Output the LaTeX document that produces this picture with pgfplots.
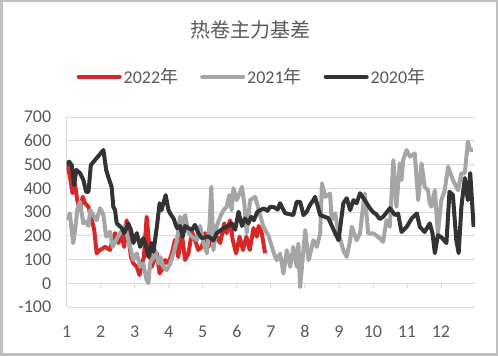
\documentclass[border=0pt]{standalone}
\usepackage{pgfplots}
\pgfplotsset{compat=1.18}
\usepackage{fontspec}
\setmainfont{Carlito}
\newfontfamily\cjk{Noto Sans CJK SC}
\definecolor{c22}{RGB}{214,40,40}
\definecolor{c21}{RGB}{165,165,165}
\definecolor{c20}{RGB}{51,51,51}
\definecolor{txt}{RGB}{89,89,89}
\definecolor{gridc}{RGB}{217,217,217}
\definecolor{bordc}{RGB}{191,191,191}
\begin{document}
\begin{tikzpicture}
\useasboundingbox (0,0) rectangle (498pt,356pt);
\draw[bordc, line width=2.5pt] (1.25pt,1.25pt) rectangle (496.75pt,354.75pt);
\node[txt, font=\cjk\fontsize{20}{24}\selectfont] at (250pt,326pt) {热卷主力基差};
\begin{axis}[
  at={(66.7pt,49pt)}, anchor=south west,
  scale only axis, width=408.3pt, height=190pt,
  xmin=1, xmax=13, ymin=-100, ymax=700,
  xtick={1,...,12}, ytick={-100,0,...,700},
  axis y line*=left, axis x line*=bottom,
  x axis line style={draw=none},
  y axis line style={draw=gridc, line width=0.8pt},
  major tick length=0pt,
  ymajorgrids, grid style={gridc, line width=0.8pt},
  tick label style={txt, font=\fontsize{18}{20}\selectfont},
  /pgf/number format/assume math mode=true,
  xticklabel style={yshift=-15pt},
  yticklabel style={xshift=-12pt},
  legend columns=3,
  legend style={at={(0.4538,1.212)}, anchor=center, draw=none, fill=none,
    font=\fontsize{18}{20}\selectfont, text=txt,
    nodes={inner xsep=2pt},
    /tikz/every even column/.append style={column sep=20pt}},
  legend image code/.code={\draw[#1, line width=4pt, line cap=round] (0pt,0pt) -- (41pt,0pt);},
  every axis plot/.append style={line width=4pt, line join=round},
]
\pgfplotsinvokeforeach{1,...,13}{\draw[gridc, line width=0.8pt] (axis cs:#1,0) -- ([yshift=-5pt]axis cs:#1,0);}
\draw[gridc, line width=0.8pt] (axis cs:1,0) -- (axis cs:13,0);
\addplot[c22, no markers] coordinates {
(1.00,505)(1.04,490)(1.11,435)(1.17,379)(1.24,420)(1.31,350)(1.39,308)(1.47,364)(1.54,337)(1.64,322)
(1.74,265)(1.81,225)(1.88,126)(1.98,140)(2.13,153)(2.27,140)(2.35,182)(2.42,211)(2.52,169)(2.59,211)
(2.69,153)(2.76,265)(2.81,196)(2.89,111)(2.96,83)(3.06,69)(3.14,34)(3.21,83)(3.27,111)(3.35,280)
(3.43,153)(3.50,69)(3.57,98)(3.65,126)(3.73,41)(3.79,55)(3.89,98)(3.99,83)(4.09,126)(4.18,182)
(4.28,111)(4.38,211)(4.48,98)(4.58,126)(4.68,217)(4.77,182)(4.87,140)(4.97,153)(5.07,211)(5.17,153)
(5.25,241)(5.31,169)(5.41,196)(5.51,169)(5.63,252)(5.70,211)(5.80,265)(5.88,182)(5.98,126)(6.08,196)
(6.18,140)(6.28,196)(6.38,140)(6.49,232)(6.59,196)(6.64,241)(6.73,213)(6.83,126)};
\addlegendentry{2022{\cjk 年}}
\addplot[c21, no markers] coordinates {
(1.04,265)(1.09,294)(1.19,169)(1.24,217)(1.31,308)(1.39,343)(1.49,252)(1.57,260)(1.64,241)(1.69,308)
(1.78,287)(1.88,265)(1.98,316)(2.08,287)(2.16,196)(2.27,217)(2.35,153)(2.45,182)(2.57,211)(2.72,241)
(2.81,182)(2.91,126)(2.96,98)(3.06,126)(3.16,69)(3.25,83)(3.35,13)(3.40,0)(3.45,83)(3.55,111)
(3.60,140)(3.70,83)(3.75,111)(3.84,69)(3.94,55)(4.04,83)(4.14,126)(4.24,182)(4.33,280)(4.38,241)
(4.48,287)(4.58,211)(4.68,196)(4.83,182)(4.92,241)(5.02,169)(5.12,126)(5.20,252)(5.25,406)(5.31,139)
(5.41,241)(5.51,280)(5.61,308)(5.70,322)(5.78,371)(5.85,308)(5.90,400)(6.00,350)(6.10,385)(6.15,406)
(6.22,337)(6.29,211)(6.39,350)(6.54,364)(6.66,300)(6.78,238)(6.93,200)(7.08,130)(7.17,97)(7.27,125)
(7.37,41)(7.47,139)(7.57,69)(7.66,153)(7.76,69)(7.81,167)(7.86,-16)(8.01,224)(8.11,97)(8.25,181)
(8.35,153)(8.45,210)(8.50,421)(8.60,364)(8.74,378)(8.79,266)(8.89,294)(8.99,210)(9.13,139)(9.23,111)
(9.33,181)(9.38,238)(9.52,181)(9.62,210)(9.72,336)(9.76,378)(9.86,210)(10.01,210)(10.16,195)(10.30,174)
(10.40,266)(10.50,238)(10.60,519)(10.69,322)(10.79,505)(10.84,435)(10.89,519)(10.99,561)(11.09,533)(11.23,547)
(11.33,350)(11.43,505)(11.52,406)(11.62,392)(11.67,336)(11.72,322)(11.82,392)(11.91,210)(12.01,350)(12.11,392)
(12.21,491)(12.35,435)(12.50,392)(12.60,463)(12.70,463)(12.79,596)(12.86,561)(12.94,561)};
\addlegendentry{2021{\cjk 年}}
\addplot[c20, no markers] coordinates {
(1.00,498)(1.07,512)(1.15,497)(1.22,413)(1.28,477)(1.39,464)(1.49,435)(1.57,385)(1.64,385)(1.71,498)
(1.88,527)(2.08,561)(2.16,477)(2.22,449)(2.32,406)(2.37,322)(2.42,308)(2.47,252)(2.62,232)(2.69,211)
(2.81,252)(2.89,224)(2.96,169)(3.06,211)(3.16,153)(3.25,190)(3.35,148)(3.40,111)(3.50,169)(3.55,132)
(3.65,238)(3.73,337)(3.79,308)(3.84,337)(3.91,371)(3.99,308)(4.04,294)(4.14,273)(4.24,232)(4.33,241)
(4.41,196)(4.48,241)(4.58,232)(4.68,225)(4.77,246)(4.87,211)(4.97,190)(5.17,197)(5.31,180)(5.41,211)
(5.61,232)(5.75,241)(5.85,252)(5.95,225)(6.05,301)(6.15,241)(6.24,273)(6.34,252)(6.42,280)(6.50,265)
(6.60,300)(6.69,308)(6.80,315)(6.90,305)(6.98,322)(7.10,320)(7.20,310)(7.27,337)(7.42,295)(7.66,287)
(7.76,343)(7.86,343)(7.96,287)(8.05,300)(8.15,330)(8.25,350)(8.30,364)(8.45,287)(8.69,274)(8.89,211)
(8.99,181)(9.13,337)(9.23,358)(9.33,308)(9.43,350)(9.52,337)(9.62,379)(9.76,350)(9.91,316)(10.00,300)
(10.10,290)(10.20,270)(10.30,280)(10.50,316)(10.65,287)(10.74,294)(10.84,216)(10.99,237)(11.14,273)(11.29,294)
(11.38,237)(11.52,216)(11.67,252)(11.75,211)(11.82,127)(11.91,202)(12.01,194)(12.16,169)(12.25,385)(12.35,371)
(12.45,181)(12.52,127)(12.60,322)(12.70,443)(12.79,350)(12.86,464)(12.96,237)};
\addlegendentry{2020{\cjk 年}}
\end{axis}
\end{tikzpicture}
\end{document}
